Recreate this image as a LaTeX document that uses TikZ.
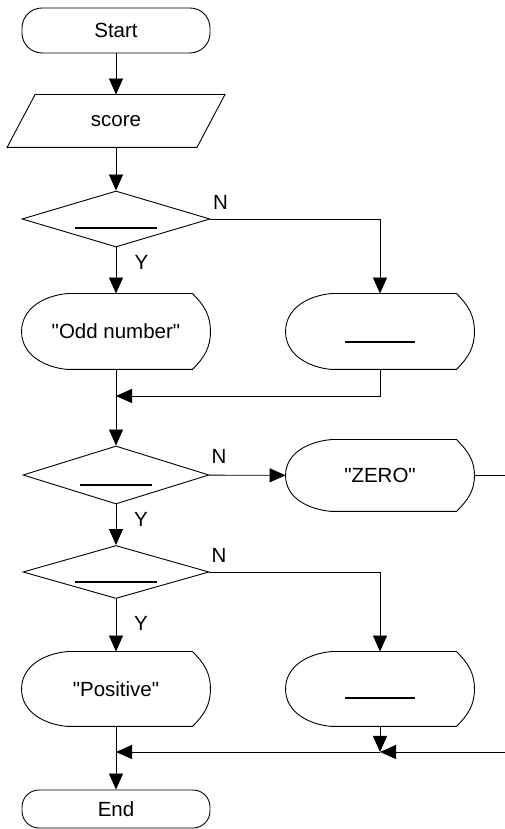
\documentclass[tikz,border=0pt]{standalone}
\usepackage{fontspec}
\setmainfont{Liberation Sans}[Ligatures=TeXOff]
\usetikzlibrary{arrows.meta,shapes.geometric}

\begin{document}
\begin{tikzpicture}[x=1pt,y=1pt,line width=0.9pt,
    >={Triangle[length=16pt,width=14pt]},
    every node/.style={font=\fontsize{20.5}{24}\selectfont},
    term/.style={draw,rectangle,minimum width=188pt,inner sep=0pt},
    test/.style={draw,diamond,minimum width=188pt,inner sep=0pt},
    display/.style={minimum width=188pt,inner sep=0pt},
    answer/.style={fill,inner sep=0pt,minimum height=1.6pt,minimum width=#1}]
  \useasboundingbox (0,0) rectangle (505,829);

  \node [term,rounded corners=20pt,minimum height=45pt] (start) at (116,798.5) {Start};
  \node [minimum width=161pt,minimum height=52pt,inner sep=0pt] (input) at (116,708) {score};
  \draw (input.north west) -- ([xshift=28pt]input.north east) -- (input.south east)
    -- ([xshift=-28pt]input.south west) -- cycle;

  \node [test,minimum height=56pt] (ifA) at (116,610) {};
  \node [answer=82pt] (ansA) at (116,601) {};
  \node [display,minimum height=75pt] (outA1) at (116,497.5) {"Odd number"};
  \node [display,minimum height=75pt] (outA2) at (380,497.5) {};
  \node [answer=70pt] (ansA2) at (380,487) {};
  \coordinate (mA) at (116,433);

  \node [test,minimum width=186pt,minimum height=58pt] (ifB) at (116,354) {};
  \node [answer=72pt] (ansB) at (116,344) {};
  \node [display,minimum height=71pt] (zero) at (380,353.5) {"ZERO"};
  \coordinate (zeroOut) at (505,353.5);

  \node [test,minimum width=186pt,minimum height=53pt] (ifC) at (116,257) {};
  \node [answer=82pt] (ansC) at (116,247) {};
  \node [display,minimum height=74pt] (outC1) at (116,140) {"Positive"};
  \node [display,minimum height=74pt] (outC2) at (380,140) {};
  \node [answer=70pt] (ansC2) at (380,131) {};
  \coordinate (mC) at (116,77);
  \coordinate (jC) at (380,77);
  \coordinate (zeroIn) at (505,77);

  \node [term,rounded corners=17pt,minimum height=38pt] (stop) at (116,20) {End};

  \foreach \n in {outA1, outA2, zero, outC1, outC2} {
    \draw ([xshift=46pt]\n.south west) to[out=175,in=-90] (\n.west)
      to[out=90,in=185] ([xshift=46pt]\n.north west) -- ([xshift=-18pt]\n.north east)
      to[out=-45,in=90] (\n.east) to[out=-90,in=45] ([xshift=-18pt]\n.south east) -- cycle;
  }

  \node (nA) at (220.5,626.5) {N};
  \node (yA) at (141.5,566.5) {Y};
  \node (nB) at (219,372.5) {N};
  \node (yB) at (141,309.5) {Y};
  \node (nC) at (219,274) {N};
  \node (yC) at (141,205.5) {Y};

  \draw [->] (start) -- (input);
  \draw [->] (input) -- (ifA);
  \draw [->] (ifA) -- (outA1);
  \draw [->] (ifA.east) -| (outA2);
  \draw [->] (outA2) |- (mA);
  \draw [->] (outA1) -- (ifB);
  \draw [->] (ifB) -- (zero);
  \draw (zero) -- (zeroOut);
  \draw [->] (ifB) -- (ifC);
  \draw [->] (ifC) -- (outC1);
  \draw [->] (ifC.east) -| (outC2);
  \draw [->] (outC2) -- (jC);
  \draw [->] (zeroIn) -- (jC);
  \draw [->] (jC) -- (mC);
  \draw [->] (outC1) -- (stop);
\end{tikzpicture}
\end{document}
